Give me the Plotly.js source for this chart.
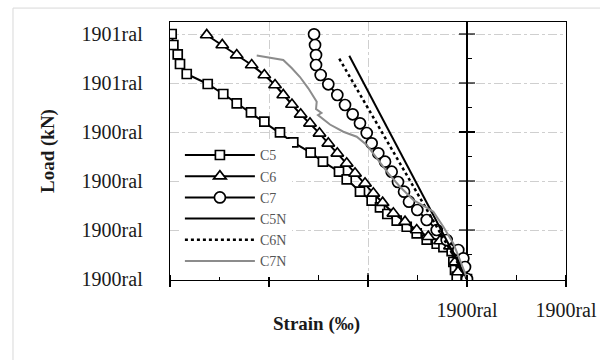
<!DOCTYPE html>
<html>
<head>
<meta charset="utf-8">
<script src="https://cdn.plot.ly/plotly-3.0.1.min.js"></script>
<style>html,body{margin:0;padding:0;background:#fff;}#chart{width:600px;height:360px;}</style>
</head>
<body>
<div id="chart"></div>
<script>
// Strain (‰) and load (kN)
const c5Strain = [-2.983,-2.966,-2.922,-2.899,-2.831,-2.619,-2.462,-2.326,-2.182,-2.047,-1.889,-1.755,-1.579,-1.455,-1.293,-1.215,-1.081,-0.963,-0.879,-0.805,-0.710,-0.609,-0.508,-0.407,-0.306,-0.238,-0.155,-0.138,-0.121,-0.104,0];
const c5Load   = [500,477.6,458.6,438.8,418.4,398,377.6,358.6,340.2,321,299.4,279,257.8,239.4,219,203.5,178.2,159.8,146.3,132.7,119,106.7,93.1,80.2,72,65.1,57.1,34.7,18.4,4.7,0];

const c6Strain = [-2.629,-2.472,-2.326,-2.175,-2.047,-1.939,-1.856,-1.768,-1.680,-1.586,-1.490,-1.401,-1.310,-1.215,-1.131,-1.030,-0.946,-0.852,-0.744,-0.626,-0.508,-0.391,-0.273,-0.172,-0.121,-0.091,0];
const c6Load   = [498,477.6,457.1,436.7,416.3,395.9,375.5,356.1,336.1,317.8,297.3,276.9,256.5,236.1,215.7,195.3,174.9,155.7,134.1,117,100,86.3,77.6,67.3,34.7,14.3,0];

const c7Strain = [-1.545,-1.535,-1.525,-1.525,-1.478,-1.401,-1.310,-1.232,-1.155,-1.081,-1.013,-0.963,-0.896,-0.828,-0.761,-0.697,-0.636,-0.586,-0.502,-0.407,-0.306,-0.205,-0.088,-0.037,-0.020,0];
const c7Load   = [499.4,477.6,457.1,436.7,416.3,397.3,375.5,355.1,336.1,317.8,298,276.9,256.5,239.4,219,198,178.2,157.8,140.8,120.4,100,79.6,59.2,42.2,24.5,0];

const c5nStrain = [-1.189,0];
const c5nLoad   = [455.7,0];

const c6nStrain = [-1.290,-0.454,0];
const c6nLoad   = [449.6,157.8,0];

const c7nStrain = [-2.124,-1.990,-1.856,-1.771,-1.687,-1.603,-1.518,-1.525,-1.470,-1.505,-1.384,-1.249,-1.114,-1.013,-0.896,-0.795,-0.677,-0.542,-0.424,-0.340,-0.239,-0.138,-0.071,-0.003];
const c7nLoad   = [456.1,452,446.9,430.6,412.2,389.2,362,346.9,338.8,334.7,315.3,300.6,290.4,273.5,242.9,215.7,188.4,161.2,147.6,137.3,106.7,72.7,38.8,3.1];

const seriesNames = ["C5","C6","C7","C5N","C6N","C7N"];

const xTickVals = [-3,-2,-1,0,1];
const xTickText = ["","","","1900ral","1900ral"];
const yTickVals = [0,100,200,300,400,500];
const yTickText = ["1900ral","1900ral","1900ral","1900ral","1901ral","1901ral"];
const yMinorVals = [50,150,250,350,450];

const serif = "Liberation Serif";

function mk(symbol, size){
  return {symbol: symbol, size: size, color: "#ffffff", line: {color: "#000000", width: 1.7}};
}

const traces = [
  {x: c5Strain, y: c5Load, name: seriesNames[0], mode: "lines+markers",
   line: {color: "#000000", width: 2}, marker: mk("square", 9)},
  {x: c6Strain, y: c6Load, name: seriesNames[1], mode: "lines+markers",
   line: {color: "#000000", width: 2}, marker: mk("triangle-up", 11)},
  {x: c7Strain, y: c7Load, name: seriesNames[2], mode: "lines+markers",
   line: {color: "#000000", width: 2}, marker: mk("circle", 11)},
  {x: c5nStrain, y: c5nLoad, name: seriesNames[3], mode: "lines",
   line: {color: "#000000", width: 2}},
  {x: c6nStrain, y: c6nLoad, name: seriesNames[4], mode: "lines",
   line: {color: "#000000", width: 2.5, dash: "dot"}},
  {x: c7nStrain, y: c7nLoad, name: seriesNames[5], mode: "lines",
   line: {color: "#8c8c8c", width: 2}}
];

const shapes = [];
// outer chart frame
shapes.push({type: "rect", xref: "paper", yref: "paper", x0: -0.3965, x1: 1.2, y0: -0.5, y1: 1.054,
  line: {color: "#d9d9d9", width: 1}, fillcolor: "rgba(0,0,0,0)", layer: "below"});
// ticks on the zero (vertical) axis
yTickVals.forEach(v => {
  if (v === 0) return;
  shapes.push({type: "line", xref: "x", yref: "y", xsizemode: "pixel", xanchor: 0,
    x0: -8, x1: 8, y0: v, y1: v, line: {color: "#000000", width: v === 300 ? 2 : 1.2}});
});
yMinorVals.forEach(v => {
  shapes.push({type: "line", xref: "x", yref: "y", xsizemode: "pixel", xanchor: 0,
    x0: 0, x1: 5, y0: v, y1: v, line: {color: "#000000", width: 1}});
});
// inner half of major x ticks
xTickVals.forEach(v => {
  if (v === -3 || v === 1 || v === 0) return;
  shapes.push({type: "line", xref: "x", yref: "y", ysizemode: "pixel", yanchor: 0,
    x0: v, x1: v, y0: 0, y1: 6, line: {color: "#000000", width: 1.2}});
});

const layout = {
  width: 600, height: 360,
  margin: {l: 170, r: 34, t: 22, b: 80},
  font: {family: serif},
  paper_bgcolor: "#ffffff", plot_bgcolor: "#ffffff",
  showlegend: true,
  legend: {x: 0.025, y: 0.01, xanchor: "left", yanchor: "bottom",
    bgcolor: "#ffffff", borderwidth: 0,
    font: {family: serif, size: 14, color: "#555555"},
    tracegroupgap: 0, itemwidth: 70},
  xaxis: {
    range: [-3, 1], tickmode: "array", tickvals: xTickVals, ticktext: xTickText,
    ticks: "outside", ticklen: 6, tickwidth: 1.2, tickcolor: "#000000",
    minor: {dtick: 0.5, tick0: 0, ticks: "inside", ticklen: 5, tickcolor: "#000000", showgrid: false},
    showline: true, linecolor: "#000000", linewidth: 1.3, mirror: true,
    showgrid: true, gridcolor: "#cfcfcf", griddash: "dashdot", gridwidth: 1,
    zeroline: true, zerolinecolor: "#000000", zerolinewidth: 1.3,
    ticklabelstandoff: 6,
    tickfont: {family: serif, size: 20, color: "#1a1a1a"},
    fixedrange: true
  },
  yaxis: {
    range: [-2, 524.5], tickmode: "array", tickvals: yTickVals, ticktext: yTickText,
    ticks: "", showline: true, linecolor: "#000000", linewidth: 1.3, mirror: true,
    showgrid: true, gridcolor: "#cfcfcf", griddash: "dashdot", gridwidth: 1,
    zeroline: false,
    ticklabelstandoff: 22,
    tickfont: {family: serif, size: 20, color: "#1a1a1a"},
    title: {text: "<b>Load (kN)</b>", font: {family: serif, size: 19, color: "#1a1a1a"}, standoff: 22},
    fixedrange: true
  },
  shapes: shapes,
  annotations: [
    {text: "<b>Strain (‰)</b>", xref: "paper", yref: "paper", x: 0.369, y: 0,
     yshift: -44, xanchor: "center", yanchor: "middle", showarrow: false,
     font: {family: serif, size: 19, color: "#1a1a1a"}}
  ]
};

Plotly.newPlot("chart", traces, layout, {displayModeBar: false, staticPlot: true});
</script>
</body>
</html>
